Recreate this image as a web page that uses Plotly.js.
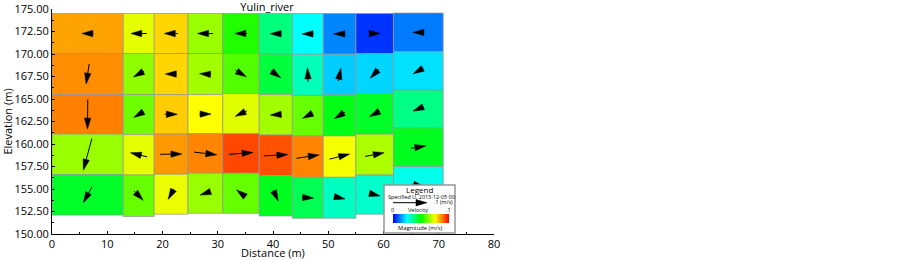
<!DOCTYPE html>
<html><head><meta charset="utf-8">
<script src="https://cdn.plot.ly/plotly-3.0.1.min.js"></script>
<style>html,body{margin:0;padding:0;background:#fff}#chart{width:903px;height:260px}</style>
</head><body><div id="chart"></div>
<script>
// ---------------- data ----------------
const chartTitle = 'Yulin_river';
const xEdges = [0, 12.9, 18.5, 24.6, 30.9, 37.5, 43.5, 49.1, 55.0, 61.8, 70.8];
// elevation boundaries (top -> bottom) of the 5 layers, one list per column
const rowEdgesByColumn = [
  [174.5, 170.05, 165.5, 161.1, 156.6, 152.1],
  [174.5, 170.05, 165.5, 161.05, 156.55, 151.95],
  [174.5, 170.05, 165.5, 161.1, 156.65, 152.2],
  [174.5, 170.05, 165.5, 161.15, 156.75, 152.3],
  [174.5, 170.05, 165.6, 161.15, 156.75, 152.3],
  [174.5, 170.0, 165.5, 161.0, 156.5, 152.0],
  [174.5, 169.97, 165.4, 160.9, 156.3, 151.75],
  [174.5, 169.97, 165.45, 160.9, 156.3, 151.75],
  [174.5, 170.05, 165.6, 161.1, 156.55, 152.2],
  [174.55, 170.25, 166.0, 161.8, 157.5, 153.3]
];
// velocity magnitude (m/s), layers top -> bottom
const magRow1 = [0.084, 0.0725, 0.079, 0.065, 0.053, 0.038, 0.025, 0.013, 0.005, 0.012];
const magRow2 = [0.086, 0.064, 0.079, 0.066, 0.058, 0.044, 0.032, 0.020, 0.021, 0.022];
const magRow3 = [0.0875, 0.061, 0.080, 0.075, 0.072, 0.066, 0.060, 0.048, 0.046, 0.037];
const magRow4 = [0.065, 0.0725, 0.085, 0.087, 0.093, 0.092, 0.087, 0.074, 0.067, 0.047];
const magRow5 = [0.046, 0.060, 0.073, 0.065, 0.060, 0.047, 0.042, 0.031, 0.030, 0.027];
// in-plane velocity components (m/s): U horizontal, W vertical
const uRow1 = [-0.034, -0.047, -0.040, -0.046, -0.036, -0.033, -0.034, -0.034, 0.032, -0.032];
const wRow1 = [0, 0, 0, 0, 0, 0, 0, 0, 0, 0];
const uRow2 = [-0.009, -0.031, -0.034, -0.034, 0.032, 0.029, -0.002, 0.007, -0.026, -0.031];
const wRow2 = [-0.059, -0.017, 0, 0.002, -0.019, -0.021, 0.041, 0.037, -0.027, -0.017];
const uRow3 = [-0.001, -0.029, 0.037, 0.034, -0.034, -0.031, -0.031, -0.031, -0.030, -0.031];
const wRow3 = [-0.087, -0.017, 0, 0, -0.016, -0.002, -0.016, -0.019, -0.016, -0.013];
const uRow4 = [-0.025, -0.049, 0.064, 0.067, 0.071, 0.071, 0.067, 0.059, 0.056, 0.044];
const wRow4 = [-0.093, 0.012, 0.001, -0.008, 0.005, 0.004, 0.010, 0.015, 0.011, 0.007];
const uRow5 = [-0.025, 0.026, -0.017, -0.029, -0.025, 0.015, 0.034, 0.032, 0.032, 0.036];
const wRow5 = [-0.047, -0.027, -0.031, -0.010, 0.019, -0.032, -0.002, -0.007, -0.008, -0.007];
const legendRefVelocity = 0.1;
const magMin = 0, magMax = 0.1;

// ---------------- style ----------------
const W = 903, H = 260;
const M = {l: 52, r: 409, t: 9, b: 26};
const plotW = W - M.l - M.r, plotH = H - M.t - M.b;
const xRange = [0, 80], yRange = [150, 175];
const pxPerX = plotW / (xRange[1] - xRange[0]);
const pxPerY = plotH / (yRange[1] - yRange[0]);
const ARROW_PX_PER_MS = 340;
const HEAD_LEN = 11, HEAD_HW = 3.2;
const FONT = 'Open Sans, Noto Sans, sans-serif';
const jetScale = [[0, 'rgb(0,0,255)'], [0.25, 'rgb(0,255,255)'], [0.5, 'rgb(0,255,0)'], [0.75, 'rgb(255,255,0)'], [1, 'rgb(255,0,0)']];

function colorFor(v) {
  let t = (v - magMin) / (magMax - magMin);
  t = Math.max(0, Math.min(1, t));
  for (let i = 1; i < jetScale.length; i++) {
    if (t <= jetScale[i][0]) {
      const a = jetScale[i - 1], b = jetScale[i];
      const f = (t - a[0]) / (b[0] - a[0]);
      const ca = a[1].match(/\d+/g).map(Number), cb = b[1].match(/\d+/g).map(Number);
      const c = ca.map((x, k) => Math.round(x + (cb[k] - x) * f));
      return 'rgb(' + c.join(',') + ')';
    }
  }
  return jetScale[jetScale.length - 1][1];
}

const magRows = [magRow1, magRow2, magRow3, magRow4, magRow5];
const uRows = [uRow1, uRow2, uRow3, uRow4, uRow5];
const wRows = [wRow1, wRow2, wRow3, wRow4, wRow5];

const traces = [];
const headX = [], headY = [], shaftX = [], shaftY = [];
for (let c = 0; c < xEdges.length - 1; c++) {
  const x0 = xEdges[c], x1 = xEdges[c + 1];
  for (let r = 0; r < 5; r++) {
    const yt = rowEdgesByColumn[c][r], yb = rowEdgesByColumn[c][r + 1];
    traces.push({
      type: 'scatter', mode: 'lines', x: [x0, x1, x1, x0, x0], y: [yt, yt, yb, yb, yt],
      fill: 'toself', fillcolor: colorFor(magRows[r][c]),
      line: {color: 'rgba(150,150,150,0.75)', width: 1},
      hoverinfo: 'skip', showlegend: false
    });
    const cx = (x0 + x1) / 2, cy = (yt + yb) / 2;
    const vx = uRows[r][c] * ARROW_PX_PER_MS, vy = wRows[r][c] * ARROW_PX_PER_MS;
    let L = Math.hypot(vx, vy);
    if (L === 0) continue;
    const dx = vx / L, dy = vy / L;
    const hasShaft = L > HEAD_LEN;
    if (!hasShaft) L = HEAD_LEN;
    const tail = [-dx * L / 2, -dy * L / 2], tip = [dx * L / 2, dy * L / 2];
    const base = [tip[0] - dx * HEAD_LEN, tip[1] - dy * HEAD_LEN];
    const px = -dy, py = dx;
    const toD = p => [cx + p[0] / pxPerX, cy + p[1] / pxPerY];
    const pts = [tip, [base[0] + px * HEAD_HW, base[1] + py * HEAD_HW], [base[0] - px * HEAD_HW, base[1] - py * HEAD_HW], tip].map(toD);
    pts.forEach(p => { headX.push(p[0]); headY.push(p[1]); });
    headX.push(null); headY.push(null);
    if (hasShaft) {
      const a = toD(tail), b = toD(base);
      shaftX.push(a[0], b[0], null); shaftY.push(a[1], b[1], null);
    }
  }
}
traces.push({type: 'scatter', mode: 'lines', x: shaftX, y: shaftY, line: {color: '#000', width: 1}, hoverinfo: 'skip', showlegend: false});
traces.push({type: 'scatter', mode: 'lines', x: headX, y: headY, fill: 'toself', fillcolor: '#000', line: {color: '#000', width: 0.5}, hoverinfo: 'skip', showlegend: false});

const pX = px => (px - M.l) / plotW;
const pY = py => (M.t + plotH - py) / plotH;

traces.push({
  type: 'scatter', mode: 'markers', x: [-100], y: [100], hoverinfo: 'skip', showlegend: false,
  marker: {color: [magMin], cmin: magMin, cmax: magMax, colorscale: jetScale, showscale: true, size: 1,
    colorbar: {orientation: 'h', x: pX(392.5), xanchor: 'left', y: pY(213.5), yanchor: 'top',
      len: 56, lenmode: 'pixels', thickness: 9, thicknessmode: 'pixels', outlinewidth: 0,
      showticklabels: false, ticks: '', xpad: 0, ypad: 0, borderwidth: 0, bgcolor: 'rgba(0,0,0,0)'}}
});

const legArrowY = 202.7, legArrowX0 = 393;
const legArrowX1 = legArrowX0 + legendRefVelocity * ARROW_PX_PER_MS;
const shapes = [
  {type: 'rect', xref: 'paper', yref: 'paper', x0: pX(384), x1: pX(455), y0: pY(233), y1: pY(185),
    fillcolor: '#fff', line: {color: 'rgb(150,150,150)', width: 1.5}, layer: 'above'},
  {type: 'line', xref: 'paper', yref: 'paper', x0: pX(legArrowX0), x1: pX(legArrowX1 - HEAD_LEN), y0: pY(legArrowY), y1: pY(legArrowY),
    line: {color: '#000', width: 1}, layer: 'above'},
  {type: 'path', xref: 'paper', yref: 'paper', layer: 'above', fillcolor: '#000', line: {color: '#000', width: 0.5},
    path: 'M' + pX(legArrowX1) + ',' + pY(legArrowY) + 'L' + pX(legArrowX1 - HEAD_LEN) + ',' + pY(legArrowY - HEAD_HW) +
      'L' + pX(legArrowX1 - HEAD_LEN) + ',' + pY(legArrowY + HEAD_HW) + 'Z'}
];
const txt = (text, px, py, size, anchor) => ({text, xref: 'paper', yref: 'paper', x: pX(px), y: pY(py),
  xanchor: anchor || 'center', yanchor: 'middle', showarrow: false, borderpad: 0,
  font: {family: FONT, size, color: '#000'}});
const annotations = [
  txt('Legend', 419.5, 189, 8),
  txt('Specified U, 2013-12-05 00:', 386.5, 197, 5.4, 'left'),
  txt('.1 (m/s)', 454, 202.3, 5.4, 'right'),
  txt('0', 392.5, 209.8, 5.6),
  txt('Velocity', 418, 209.8, 5.6),
  txt('.1', 448.5, 209.8, 5.6),
  txt('Magnitude (m/s)', 420, 227.5, 5.8)
];

const axisCommon = {showgrid: false, zeroline: false, showline: true, linecolor: '#000', linewidth: 1,
  ticks: 'inside', ticklen: 3, tickcolor: '#000', tickfont: {family: FONT, size: 11, color: '#000'},
  fixedrange: true, automargin: false};
const layout = {
  width: W, height: H, margin: M, paper_bgcolor: '#fff', plot_bgcolor: '#fff', showlegend: false,
  title: {text: chartTitle, x: 267 / W, xanchor: 'center', xref: 'container', yref: 'container', y: 1 - 7 / H, yanchor: 'middle',
    font: {family: FONT, size: 11, color: '#000'}, pad: {t: 0, b: 0, l: 0, r: 0}},
  xaxis: Object.assign({}, axisCommon, {range: xRange, tick0: 0, dtick: 10,
    minor: {ticks: 'inside', dtick: 5, ticklen: 2, tickcolor: '#000'},
    title: {text: 'Distance (m)', font: {family: FONT, size: 11, color: '#000'}, standoff: 5}}),
  yaxis: Object.assign({}, axisCommon, {range: yRange, tick0: 150, dtick: 2.5, tickformat: '.2f',
    minor: {ticks: 'inside', dtick: 1.25, ticklen: 2, tickcolor: '#000'},
    title: {text: 'Elevation (m)', font: {family: FONT, size: 11, color: '#000'}, standoff: 3}}),
  shapes, annotations
};
Plotly.newPlot('chart', traces, layout, {staticPlot: true, displayModeBar: false});
</script></body></html>
